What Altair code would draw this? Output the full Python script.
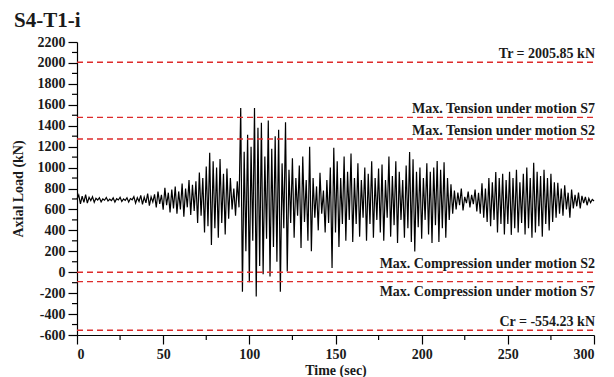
import altair as alt
import pandas as pd

title_text = "S4-T1-i"

# time samples (sec) and axial load (kN) (peaks / troughs)
time_sec = list(range(0, 301))
axial_load = [
    700, 738, 652, 728, 668, 742, 660, 716, 684, 722,
    668, 706, 690, 712, 672, 700, 688, 714, 680, 698,
    684, 710, 670, 702, 690, 716, 676, 700, 686, 712,
    670, 704, 692, 722, 660, 712, 676, 734, 648, 718,
    662, 752, 636, 720, 670, 744, 618, 770, 652, 740,
    598, 806, 640, 760, 572, 790, 610, 818, 560, 772,
    600, 848, 530, 800, 620, 880, 548, 836, 586, 870,
    470, 952, 540, 900, 380, 1010, 440, 1142, 261, 1060,
    420, 1000, 330, 1081, 470, 940, 360, 990, 510, 900,
    600, 800, 540, 870, 620, 1569, -186, 1150, 200, 1314,
    -95, 1200, 300, 1569, -233, 1380, 60, 1428, -20, 1105,
    320, 1450, -42, 1180, 240, 1300, 100, 1362, -186, 1040,
    420, 1432, 6, 980, 470, 1090, 330, 900, 540, 1020,
    232, 1106, 480, 880, 300, 1199, 200, 900, 520, 820,
    400, 950, 560, 780, 380, 880, 470, 1000, 41, 1190,
    380, 1060, 240, 900, 460, 1105, 300, 960, 500, 1135,
    290, 900, 460, 1040, 340, 880, 520, 1000, 300, 940,
    460, 1060, 330, 900, 500, 990, 380, 1030, 300, 880,
    520, 1106, 340, 920, 450, 1060, 280, 960, 500, 880,
    330, 1020, 420, 1148, 290, 1080, 197, 960, 430, 1000,
    320, 900, 500, 1040, 360, 960, 280, 1000, 450, 1062,
    290, 980, 420, 1050, 330, 900, 500, 840, 560, 780,
    600, 760, 640, 800, 590, 720, 660, 770, 620, 740,
    650, 790, 580, 760, 560, 850, 520, 800, 480, 900,
    440, 860, 500, 958, 380, 900, 460, 940, 360, 880,
    460, 960, 357, 900, 420, 980, 380, 860, 470, 940,
    360, 1000, 420, 900, 330, 1046, 380, 960, 440, 920,
    340, 980, 460, 900, 400, 940, 480, 860, 520, 854,
    560, 800, 540, 830, 600, 760, 520, 790, 610, 740,
    630, 760, 610, 730, 660, 720, 640, 705, 665, 695,
    680,
]

ref_values = [2005.85, 1480, 1273, 0, -90, -554.23]
ref_labels = [
    "Tr = 2005.85 kN",
    "Max. Tension under motion S7",
    "Max. Tension under motion S2",
    "Max. Compression under motion S2",
    "Max. Compression under motion S7",
    "Cr = -554.23 kN",
]
ref_side = ["above", "above", "above", "above", "below", "above"]

y_ticks = [-600, -400, -200, 0, 200, 400, 600, 800, 1000, 1200, 1400, 1600, 1800, 2000, 2200]
y_minor = [-500, -300, -100, 100, 300, 500, 700, 900, 1100, 1300, 1500, 1700, 1900, 2100]
x_ticks = [0, 50, 100, 150, 200, 250, 300]
x_minor = [25, 75, 125, 175, 225, 275]

W, H = 517, 293
FONT = "Liberation Serif"
RED = "#dd2b2b"
TXT = "#1a1a1a"

sig = pd.DataFrame({"t": time_sec, "load": axial_load})
refs = pd.DataFrame({"v": ref_values, "label": ref_labels, "side": ref_side})
ymin_df = pd.DataFrame({"v": y_minor})
xmin_df = pd.DataFrame({"t": x_minor})
title_df = pd.DataFrame({"txt": [title_text]})

xs = alt.Scale(domain=[0, 300], nice=False, zero=False)
ys = alt.Scale(domain=[-600, 2200], nice=False, zero=False)

x_axis = alt.Axis(values=x_ticks, title="Time (sec)", titleY=39, titleBaseline="alphabetic",
                  labelPadding=3, labelOverlap=False, labelExpr="'' + datum.value")
y_axis = alt.Axis(values=y_ticks, title="Axial Load (kN)", titleX=-52, titleY=H / 2,
                  labelPadding=3, labelOverlap=False, labelExpr="'' + datum.value")

line = alt.Chart(sig).mark_line(color="black", strokeWidth=1.2).encode(
    x=alt.X("t:Q", scale=xs, axis=x_axis),
    y=alt.Y("load:Q", scale=ys, axis=y_axis),
)

rules = alt.Chart(refs).mark_rule(color=RED, strokeWidth=1.4, strokeDash=[6, 4]).encode(
    y=alt.Y("v:Q", scale=ys, axis=y_axis), x=alt.value(0), x2=alt.value(W)
)

lab_above = alt.Chart(refs).transform_filter(alt.datum.side == "above").mark_text(
    align="right", baseline="alphabetic", dy=-4, font=FONT, fontWeight="bold",
    fontSize=14, color=TXT
).encode(y=alt.Y("v:Q", scale=ys, axis=y_axis), x=alt.value(W + 1), text="label:N")

lab_below = alt.Chart(refs).transform_filter(alt.datum.side == "below").mark_text(
    align="right", baseline="top", dy=3, font=FONT, fontWeight="bold",
    fontSize=14, color=TXT
).encode(y=alt.Y("v:Q", scale=ys, axis=y_axis), x=alt.value(W + 1), text="label:N")

yminor = alt.Chart(ymin_df).mark_rule(color="black", strokeWidth=1.2).encode(
    y=alt.Y("v:Q", scale=ys, axis=y_axis), x=alt.value(-5), x2=alt.value(0)
)
xminor = alt.Chart(xmin_df).mark_rule(color="black", strokeWidth=1.2).encode(
    x=alt.X("t:Q", scale=xs, axis=x_axis), y=alt.value(H), y2=alt.value(H + 5)
)

title = alt.Chart(title_df).mark_text(
    align="left", baseline="alphabetic", font=FONT, fontWeight="bold",
    fontSize=21, color=TXT
).encode(x=alt.value(-63), y=alt.value(-15), text="txt:N")

chart = alt.layer(line, rules, lab_above, lab_below, yminor, xminor, title).properties(
    width=W, height=H,
    autosize=alt.AutoSizeParams(type="none"),
    padding={"left": 77, "top": 42, "right": 20, "bottom": 42},
).configure_view(stroke=None).configure_axis(
    labelFont=FONT, labelFontWeight="bold", labelFontSize=14, labelColor=TXT,
    titleFont=FONT, titleFontWeight="bold", titleFontSize=14, titleColor=TXT,
    domainColor="black", domainWidth=1.2, tickColor="black", tickWidth=1.2,
    tickSize=9, grid=False,
)

chart.save("out.html", embed_options={"renderer": "svg", "actions": False})
